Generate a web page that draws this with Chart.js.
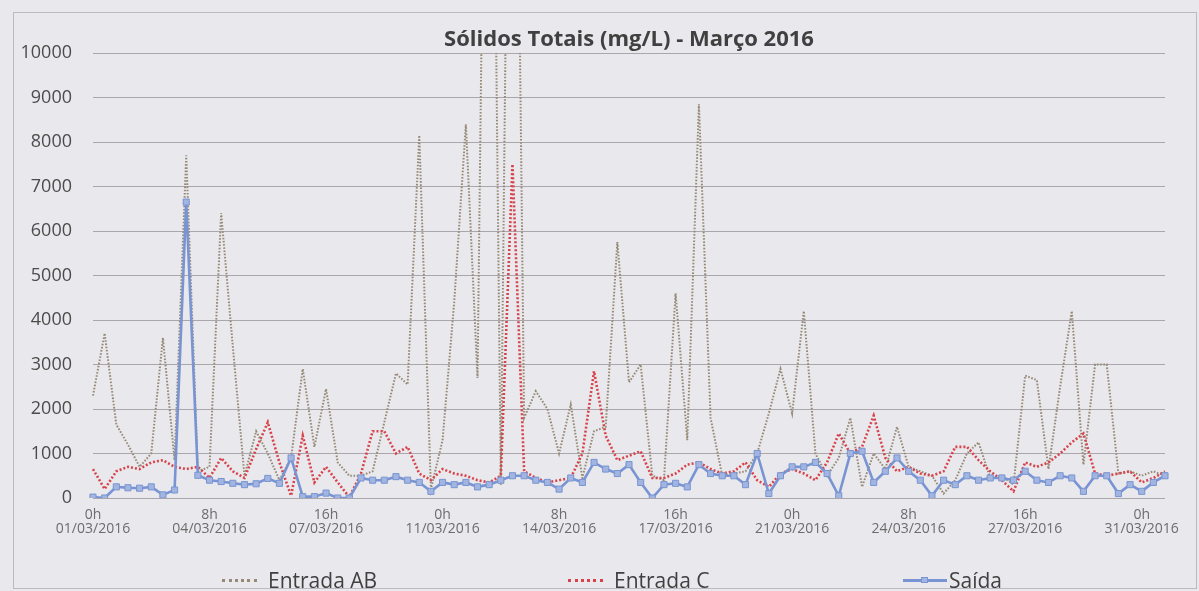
<!DOCTYPE html>
<html>
<head>
<meta charset="utf-8">
<title>Sólidos Totais - Março 2016</title>
<script src="https://cdn.jsdelivr.net/npm/chart.js@4.4.1/dist/chart.umd.min.js"></script>
<style>
  body { margin: 0; background: #e9e8ec; }
  #wrap { position: relative; width: 1199px; height: 591px; }
  #frame { position: absolute; left: 13px; top: 12px; width: 1182px; height: 575px; border: 1px solid #bdb9be; pointer-events: none; }
  .leg { position: absolute; top: 567px; height: 26px; display: flex; align-items: center; font: 21px "Open Sans", sans-serif; color: #404040; white-space: nowrap; }
  .dots { display: inline-block; width: 35px; height: 0; border-top: 3px dotted; margin-right: 11px; }
  .line { position: relative; display: inline-block; width: 44px; height: 3px; background: #7894d2; margin-right: 2px; }
  .line::after { content: ""; position: absolute; left: 18px; top: -2px; width: 7px; height: 6px; background: #a2b5e0; border: 1px solid #7894d2; box-sizing: border-box; }
</style>
</head>
<body>
<div id="wrap">
  <canvas id="chart" width="1199" height="591"></canvas>
  <div id="frame"></div>
  <div class="leg" style="left:222px"><span class="dots" style="color:#968a77"></span>Entrada AB</div>
  <div class="leg" style="left:568px"><span class="dots" style="color:#d8434b"></span>Entrada C</div>
  <div class="leg" style="left:903px"><span class="line"></span>Saída</div>
</div>
<script>
// leituras a cada 8 horas (0h, 8h, 16h) de 01/03 a 31/03/2016
const days = [];
for (let d = 1; d <= 31; d++) days.push(String(d).padStart(2, "0") + "/03/2016");
const hours = ["0h", "8h", "16h"];
const categories = [];
for (const day of days) {
  for (const h of hours) categories.push(h + " " + day);
}
const tickStep = 10;

const entradaAB = [
  2300, 3700, 1650, 1200, 700, 1000, 3600, 850, 7700, 600,
  700, 6400, 3400, 500, 1500, 1000, 400, 900, 2900, 1150,
  2450, 800, 500, 500, 600, 1700, 2800, 2550, 8150, 200,
  1300, 4400, 8400, 2700, 25000, 300, 25000, 1800, 2400, 2000,
  1000, 2100, 450, 1500, 1600, 5750, 2600, 3000, 500, 400,
  4600, 1300, 8850, 1800, 500, 550, 600, 1000, 1900, 2900,
  1900, 4200, 1000, 500, 900, 1800, 250, 1000, 650, 1600,
  700, 600, 500, 100, 400, 1000, 1250, 450, 500, 300,
  2750, 2650, 650, 2500, 4200, 750, 3000, 3000, 550, 600,
  500, 600, 500
];

const entradaC = [
  650, 200, 600, 700, 650, 800, 850, 700, 650, 700,
  450, 900, 600, 450, 1100, 1700, 800, 50, 1400, 350,
  700, 350, 20, 550, 1500, 1500, 1000, 1150, 550, 400,
  650, 550, 500, 400, 350, 500, 7500, 600, 450, 350,
  400, 450, 1000, 2850, 1400, 850, 950, 1050, 450, 450,
  550, 750, 800, 650, 550, 600, 800, 400, 250, 550,
  650, 550, 400, 800, 1450, 1000, 1150, 1850, 900, 600,
  700, 550, 500, 600, 1150, 1150, 850, 600, 400, 150,
  800, 700, 800, 1000, 1250, 1450, 550, 500, 550, 600,
  350, 450, 600
];

const saida = [
  20, 0, 250, 230, 220, 250, 70, 180, 6650, 510,
  400, 370, 330, 300, 320, 440, 330, 900, 30, 30,
  110, 0, 0, 450, 400, 400, 480, 400, 350, 150,
  350, 300, 350, 250, 300, 400, 500, 500, 400, 350,
  200, 450, 350, 800, 650, 550, 750, 350, 0, 300,
  330, 250, 750, 550, 500, 500, 300, 1000, 100, 500,
  700, 700, 800, 550, 50, 1000, 1050, 350, 600, 900,
  600, 400, 50, 400, 300, 500, 400, 450, 450, 400,
  600, 400, 350, 500, 450, 150, 500, 500, 100, 300,
  150, 350, 500
];

const yTicks = { min: 0, max: 10000, step: 1000 };

const ctx = document.getElementById("chart");

new Chart(ctx, {
  type: "line",
  data: {
    labels: categories,
    datasets: [
      {
        label: "Entrada AB",
        data: entradaAB,
        borderColor: "#968a77",
        borderWidth: 2,
        borderDash: [1.6, 1.6],
        pointRadius: 0,
        tension: 0,
        order: 3,
      },
      {
        label: "Entrada C",
        data: entradaC,
        borderColor: "#d8434b",
        borderWidth: 2.6,
        borderDash: [2, 2],
        pointRadius: 0,
        tension: 0,
        order: 2,
      },
      {
        label: "Saída",
        data: saida,
        borderColor: "#7894d2",
        borderWidth: 2.6,
        pointStyle: "rect",
        pointRadius: 4.3,
        pointBackgroundColor: "#a2b5e0",
        pointBorderColor: "#7894d2",
        pointBorderWidth: 1,
        tension: 0,
        order: 1,
      },
    ],
  },
  options: {
    responsive: false,
    animation: false,
    devicePixelRatio: 1,
    layout: {
      padding: { left: 13, right: 34, top: 9, bottom: 53 },
    },
    plugins: {
      legend: { display: false },
      tooltip: { enabled: false },
      title: {
        display: true,
        fullSize: false,
        text: "Sólidos Totais (mg/L) - Março 2016",
        color: "#404040",
        font: { family: "'Open Sans', sans-serif", size: 22, weight: "bold", lineHeight: "27px" },
        padding: { top: 17, bottom: 0 },
      },
    },
    scales: {
      x: {
        grid: { display: false, drawTicks: false },
        border: { display: false },
        ticks: {
          autoSkip: false,
          maxRotation: 0,
          padding: 10,
          color: "#6c6c6c",
          font: { family: "'Open Sans', sans-serif", size: 14, lineHeight: "14px" },
          callback: function (value, index) {
            if (index % tickStep !== 0) return null;
            return categories[index].split(" ");
          },
        },
        afterFit: function (scale) {
          scale.height = 40;
        },
      },
      y: {
        min: yTicks.min,
        max: yTicks.max,
        grid: { color: "#aaa6ab", lineWidth: 1, drawTicks: false },
        border: { display: false },
        ticks: {
          stepSize: yTicks.step,
          padding: 21,
          color: "#4c4c4c",
          font: { family: "'Open Sans', sans-serif", size: 18 },
          callback: (v) => String(v),
        },
        afterFit: function (scale) {
          scale.width = 80;
        },
      },
    },
  },
});
</script>
</body>
</html>
